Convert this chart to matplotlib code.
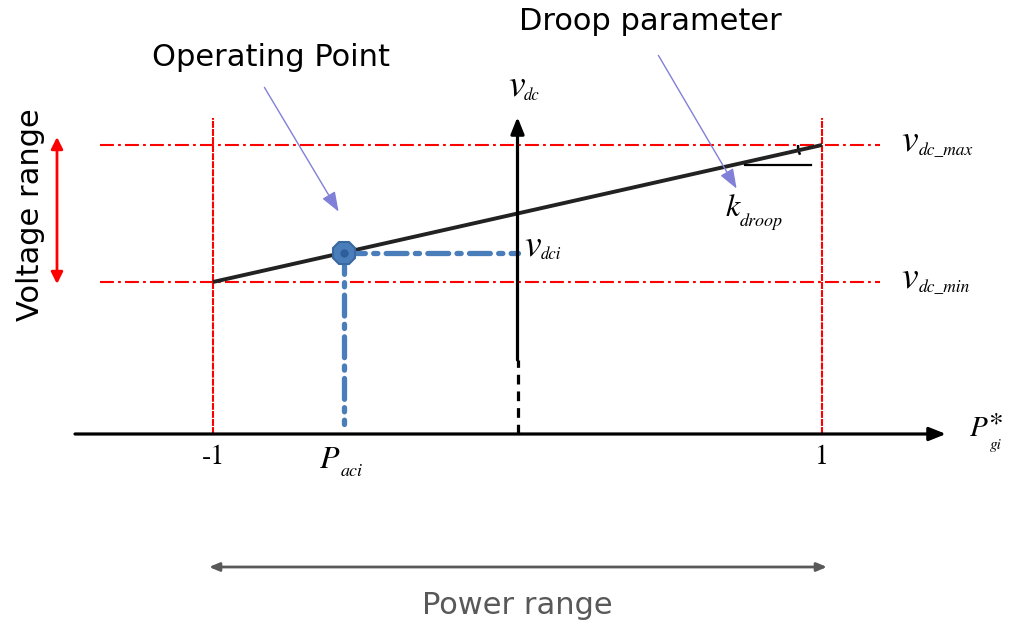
import matplotlib.pyplot as plt
from matplotlib.patches import Arc

plt.rcParams['lines.scale_dashes'] = False

# diagram values (per-unit power, normalised voltage)
p_range = [-1, 1]
p_labels = ['-1', '1']
v_min = 0.526
v_max = 1.0
droop_p = [-1, 1]
droop_v = [v_min, v_max]
op_p = -0.57
op_v = v_min + (op_p + 1) / 2 * (v_max - v_min)

RED = '#ff0000'
BLUE = '#4a7ebb'
LAV = '#8080d8'
GREY = '#595959'
SERIF = 'STIXGeneral'

fig = plt.figure(figsize=(10.13, 6.28), dpi=100)
ax = fig.add_axes([0, 0, 1, 1])
ax.set_xlim(-517.5 / 304.5, (1013 - 517.5) / 304.5)
ax.set_ylim(-(628 - 434) / 289, 434 / 289)
ax.axis('off')

# helpers: pixel -> data (for text/arrow placement only)
def px(x):
    return (x - 517.5) / 304.5

def py(y):
    return (434 - y) / 289

def sym(x, y, main, sub, size, subsize, dx, dy=10, sup=None):
    ax.text(px(x), py(y), main, fontsize=size, family=SERIF, style='italic', ha='left', va='center')
    ax.text(px(x + dx), py(y + dy), sub, fontsize=subsize, family=SERIF, style='italic',
            ha='left', va='center')
    if sup:
        ax.text(px(x + dx - 1), py(y - 4), sup, fontsize=21, family=SERIF, ha='left', va='center')

# red limit lines
for v in [v_min, v_max]:
    ax.plot([px(100), px(880)], [v, v], color=RED, lw=1.5, dashes=(10, 3, 2, 3))
for p in p_range:
    ax.plot([p, p], [0, py(118)], color=RED, lw=1.5, dashes=(5, 0.8))

# horizontal axis
ax.annotate('', xy=(px(946), 0), xytext=(px(75), 0),
            arrowprops=dict(arrowstyle='-|>,head_length=1.0,head_width=0.4',
                            color='black', lw=2.3, shrinkA=0, shrinkB=0))
# vertical axis
ax.plot([0, 0], [0, py(360)], color='black', lw=2.3, dashes=(7, 5))
ax.annotate('', xy=(0, py(117)), xytext=(0, py(360)),
            arrowprops=dict(arrowstyle='-|>,head_length=1.0,head_width=0.4',
                            color='black', lw=2.3, shrinkA=0, shrinkB=0))

# droop characteristic
ax.plot(droop_p, droop_v, color='#222222', lw=2.8, solid_capstyle='butt')
# angle mark
ax.plot([px(745), px(811)], [py(165), py(165)], color='black', lw=1.6)
ax.add_patch(Arc((px(822), py(145)), 2 * 24 / 304.5, 2 * 24 / 289,
                 theta1=180, theta2=205, color='black', lw=1.8))

# operating point projections
ax.plot([op_p, 0], [op_v, op_v], color=BLUE, lw=3.8, dashes=(15, 6, 3, 6), dash_capstyle='round')
ax.plot([op_p, op_p], [op_v, py(424)], color=BLUE, lw=3.8, dashes=(15, 6, 3, 6),
        dash_capstyle='round')
ax.plot([op_p], [op_v], marker='8', ms=17, color=BLUE, mec='#3a68a0', mew=1.5)
ax.plot([op_p], [op_v], marker='o', ms=5, color='#2f5f9a')

# math labels
sym(508, 86, 'v', 'dc', 27, 12, 16, dy=10)
sym(901, 141, 'v', 'dc_max', 27, 12.5, 18, dy=10)
sym(901, 278, 'v', 'dc_min', 27, 12.5, 18, dy=10)
sym(524, 246, 'v', 'dci', 27, 12, 17, dy=9)
sym(726, 209, 'k', 'droop', 23, 13, 14, dy=13)
sym(320, 461, 'P', 'aci', 23, 13, 21, dy=11)
sym(970, 429, 'P', 'gi', 21, 11, 20, dy=16, sup='*')
for p, lab in zip(p_range, p_labels):
    ax.text(p, py(457), lab, fontsize=20, family=SERIF, ha='center', va='center')

# annotations
ax.text(px(271), py(57), 'Operating Point', fontsize=22, ha='center', va='center')
ax.annotate('', xy=(px(340), py(214)), xytext=(px(263), py(85)),
            arrowprops=dict(arrowstyle='-|>,head_length=1.2,head_width=0.45', color=LAV, lw=1.0))
ax.text(px(650), py(22), 'Droop parameter', fontsize=22, ha='center', va='center')
ax.annotate('', xy=(px(738), py(191)), xytext=(px(657), py(53)),
            arrowprops=dict(arrowstyle='-|>,head_length=1.2,head_width=0.45', color=LAV, lw=1.0))

# voltage range
ax.text(px(30), py(215), 'Voltage range', fontsize=22, rotation=90, ha='center', va='center')
ax.annotate('', xy=(px(57), py(137)), xytext=(px(57), py(284)),
            arrowprops=dict(arrowstyle='<|-|>,head_length=0.7,head_width=0.35', color=RED, lw=2,
                            shrinkA=0, shrinkB=0))

# power range
ax.annotate('', xy=(px(827), py(567)), xytext=(px(209), py(567)),
            arrowprops=dict(arrowstyle='<|-|>,head_length=0.6,head_width=0.25', color=GREY, lw=2,
                            shrinkA=0, shrinkB=0))
ax.text(0, py(605), 'Power range', fontsize=22, color=GREY, ha='center', va='center')

fig.savefig('out.png', dpi=100)
